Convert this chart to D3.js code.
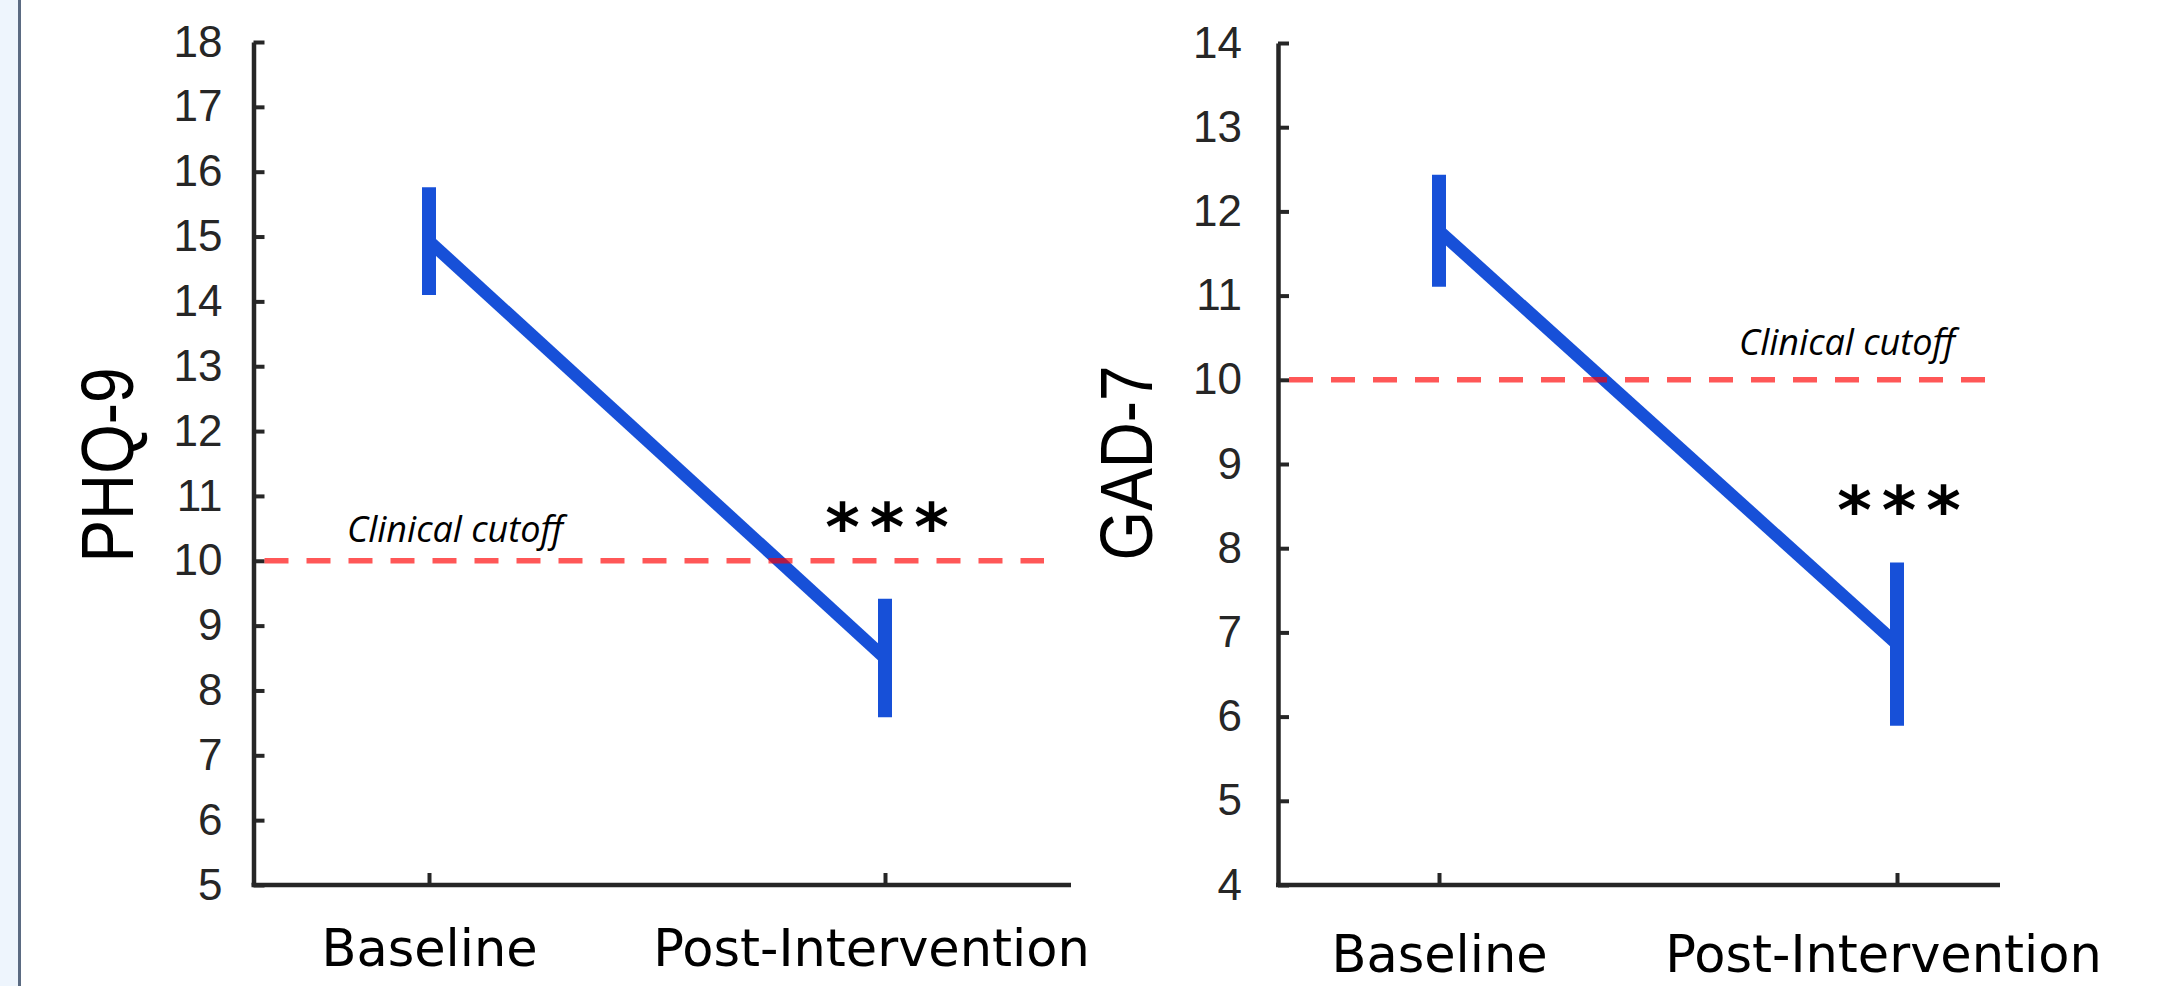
<!DOCTYPE html>
<html>
<head>
<meta charset="utf-8">
<script src="https://cdn.jsdelivr.net/npm/d3@7"></script>
<style>
  html, body { margin: 0; padding: 0; background: #fff; }
  svg { display: block; }
</style>
</head>
<body>
<div id="chart"></div>
<script>
/*
 * PHQ-9 / GAD-7 before and after
 */

var conditions = ['Baseline', 'Post-Intervention'];

var phqMean = [14.93, 8.5];
var phqErr = [0.83, 0.915];
var phqTicks = [5, 6, 7, 8, 9, 10, 11, 12, 13, 14, 15, 16, 17, 18];

var gadMean = [11.77, 6.86];
var gadErr = [0.665, 0.97];
var gadTicks = [4, 5, 6, 7, 8, 9, 10, 11, 12, 13, 14];

var cutoff = 10;
var cutoffLabel = 'Clinical cutoff';
var sigLabel = '***';

var W = 2157, H = 986;
var BLUE = '#1750d8';
var AXIS = '#262626';

var svg = d3.select('#chart').append('svg')
    .attr('width', W)
    .attr('height', H);

// window edge on the left
svg.append('rect').attr('x', 0).attr('y', 0).attr('width', 18).attr('height', H).attr('fill', '#eef5fd');
svg.append('rect').attr('x', 18).attr('y', 0).attr('width', 3).attr('height', H).attr('fill', '#5b6b82');

function drawPanel(p){
    var y = d3.scaleLinear()
        .domain([p.ticks[0], p.ticks[p.ticks.length - 1]])
        .range([p.bottom, p.top]);
    var x = d3.scalePoint()
        .domain(conditions)
        .range(p.cat);

    var g = svg.append('g');

    // y axis
    var ya = g.append('g')
        .attr('transform', 'translate(' + p.left + ',0)')
        .call(d3.axisLeft(y).tickValues(p.ticks).tickSize(-11).tickSizeOuter(0).tickPadding(p.tickPad));
    ya.select('.domain').attr('stroke', AXIS).attr('stroke-width', 4.5);
    ya.selectAll('.tick line').attr('stroke', AXIS).attr('stroke-width', 4);
    ya.selectAll('.tick text')
        .attr('fill', AXIS)
        .style('font-family', '"Liberation Sans", Arial, sans-serif')
        .style('font-size', '44px');

    // x axis
    var xa = g.append('g')
        .attr('transform', 'translate(0,' + p.bottom + ')')
        .call(d3.axisBottom(x).tickSize(-12).tickSizeOuter(0).tickPadding(p.labelPad));
    xa.select('.domain').remove();
    xa.append('line')
        .attr('x1', p.left - 2).attr('x2', p.right)
        .attr('stroke', AXIS).attr('stroke-width', 4.5);
    xa.selectAll('.tick line').attr('stroke', AXIS).attr('stroke-width', 4);
    xa.selectAll('.tick text')
        .attr('fill', '#000')
        .attr('dx', function(d, i){ return i === 1 ? -14 : 0; })
        .style('font-family', '"DejaVu Sans", Verdana, sans-serif')
        .style('font-size', '51px');

    // axis title
    g.append('text')
        .attr('transform', 'translate(' + p.titleX + ',' + p.titleY + ') rotate(-90)')
        .attr('text-anchor', 'middle')
        .attr('textLength', 195)
        .attr('lengthAdjust', 'spacingAndGlyphs')
        .style('font-family', '"Liberation Sans", Arial, sans-serif')
        .style('font-size', '75px')
        .attr('fill', '#000')
        .text(p.title);

    // mean line
    var pts = conditions.map(function(c, i){ return [x(c), y(p.mean[i])]; });
    g.append('path')
        .attr('d', d3.line()(pts))
        .attr('fill', 'none')
        .attr('stroke', BLUE)
        .attr('stroke-width', 12.5);

    // error bars
    g.selectAll('.err')
        .data(conditions)
        .enter()
        .append('line')
        .attr('class', 'err')
        .attr('x1', function(c){ return x(c); })
        .attr('x2', function(c){ return x(c); })
        .attr('y1', function(c, i){ return y(p.mean[i] + p.err[i]); })
        .attr('y2', function(c, i){ return y(p.mean[i] - p.err[i]); })
        .attr('stroke', BLUE)
        .attr('stroke-width', 14);

    // cutoff
    g.append('line')
        .attr('x1', p.left + 11).attr('x2', p.cutEnd)
        .attr('y1', y(cutoff)).attr('y2', y(cutoff))
        .attr('stroke', '#ff0000')
        .attr('stroke-opacity', 0.66)
        .attr('stroke-width', 5.5)
        .attr('stroke-dasharray', '24,18');

    g.append('text')
        .attr('x', p.cutTextX)
        .attr('y', y(cutoff) - p.cutTextUp)
        .style('font-family', '"Open Sans", sans-serif')
        .style('font-style', 'italic')
        .style('font-size', '36px')
        .attr('fill', '#000')
        .text(cutoffLabel);

    g.append('text')
        .attr('x', x(conditions[1]) + 7)
        .attr('y', p.sigY)
        .attr('text-anchor', 'middle')
        .style('font-family', '"DejaVu Sans", sans-serif')
        .style('font-weight', 'bold')
        .style('font-size', '66px')
        .style('letter-spacing', '10px')
        .attr('fill', '#000')
        .text(sigLabel);
}

drawPanel({
    title: 'PHQ-9', mean: phqMean, err: phqErr, ticks: phqTicks,
    left: 253.5, right: 1071, top: 42, bottom: 885, cat: [429, 885],
    tickPad: 31, labelPad: 45, titleX: 133, titleY: 465,
    cutEnd: 1044, cutTextX: 347, cutTextUp: 19, sigY: 550
});

drawPanel({
    title: 'GAD-7', mean: gadMean, err: gadErr, ticks: gadTicks,
    left: 1278, right: 2000, top: 43, bottom: 885, cat: [1439, 1897],
    tickPad: 36, labelPad: 51, titleX: 1152, titleY: 463,
    cutEnd: 2000, cutTextX: 1739, cutTextUp: 25, sigY: 533
});
</script>
</body>
</html>
